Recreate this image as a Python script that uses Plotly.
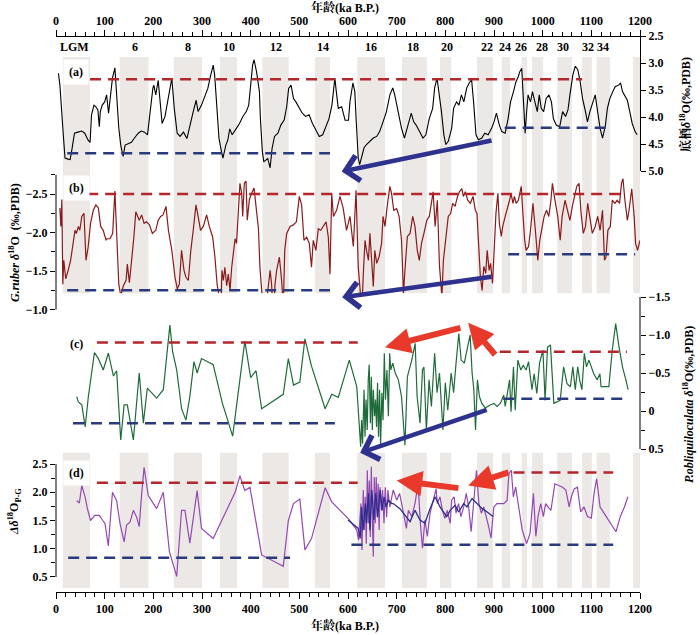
import plotly.graph_objects as go

# ---------------- data ----------------
AGE_A = [5,8,15,18.5,25,29,32,35,38,45,53,59,66,70,73,78,82,86,89,91,95,100,104,108,113,116,121,124,129,133,138,142,148,155,162,169,175,182,188,193,199,201,205,210,215,218,224,234,238,243,249,255,262,269,275,282,288,292,299,306,312,317,323,326,330,335,340,343,349,353,357,362,370,377,384,391,396,400,404,407,412,418,420,424,427,431,435,440,444,449,456,462,469,474,478,483,488,493,500,506,513,520,527,534,541,548,555,561,567,573,576,580,587,594,601,604,610,614,617,621,624,628,633,638,645,652,659,665,672,679,686,692,696,703,710,716,723,730,735,740,747,754,760,767,774,778,783,787,792,797,801,806,813,817,823,828,833,838,844,849,854,858,863,868,875,881,888,895,900,905,911,916,923,929,934,940,945,950,953,957,960,964,967,970,975,979,984,989,993,997,1002,1007,1013,1018,1022,1028,1035,1041,1047,1052,1056,1062,1067,1072,1077,1082,1088,1092,1097,1103,1108,1113,1118,1123,1129,1133,1138,1144,1149,1156,1160,1164,1169,1174,1179,1184,1190,1194]
BENTHIC = [3.19,3.41,4.33,4.76,4.78,4.79,4.64,4.46,4.30,4.28,4.26,4.30,4.43,4.47,3.96,3.78,3.81,3.87,4.18,3.90,3.78,3.72,3.59,3.93,3.47,3.28,3.09,3.59,4.20,4.52,4.73,4.52,4.49,4.47,4.38,4.30,4.26,4.28,4.33,3.90,3.47,3.41,3.59,3.32,3.90,4.12,3.99,3.47,3.28,3.84,4.30,4.36,4.28,4.40,4.15,3.90,3.69,3.90,3.78,3.59,3.47,3.26,3.04,3.22,3.84,4.40,4.64,4.76,4.52,4.43,4.22,4.33,4.22,4.12,3.99,3.90,3.78,3.41,3.04,2.94,3.16,3.53,4.03,4.64,4.83,4.80,4.77,4.94,4.58,4.36,4.30,4.15,4.05,3.81,3.47,3.41,3.66,3.72,3.84,3.93,3.99,3.96,4.12,4.24,4.36,4.33,4.15,4.03,3.78,3.28,3.53,3.84,3.81,4.06,4.06,3.72,3.37,3.53,4.09,4.76,4.88,4.76,4.57,4.51,4.45,4.39,4.36,4.27,4.09,3.90,3.59,3.46,3.59,3.90,4.21,4.39,4.15,3.93,4.09,4.15,4.27,4.39,4.33,4.03,3.84,3.46,3.28,3.53,3.90,4.33,4.51,4.45,4.21,3.84,3.72,3.78,3.59,3.72,3.46,3.37,3.31,3.72,4.33,4.42,4.39,4.30,4.33,4.21,4.09,3.93,4.15,4.27,4.30,4.03,3.72,3.53,3.35,3.25,3.16,3.10,3.66,4.30,3.90,3.59,3.72,3.53,3.72,3.90,3.59,3.84,3.90,3.66,3.59,3.72,4.03,4.15,4.18,3.90,3.99,3.87,3.59,3.22,3.06,3.12,3.34,3.66,3.90,4.09,3.90,3.72,3.59,3.90,4.21,4.39,4.15,3.84,3.66,3.53,3.44,3.41,3.37,3.53,3.62,3.69,3.90,4.12,4.27,4.33]

AGE_B = [8,10,12,14,16,20,25,30,34,39,42,46,49,53,57.5,61.6,66,71,76.6,82,87,91.8,97,103,105,111,116.5,121,125,129,133,138.5,144,146.6,150.8,155.6,160,164,167,171,176,181,186,192,198,205,210,215,220,226,231,238,244.5,249.3,253.4,258,263,267,272,277,282,287.6,292,297,302.7,309.5,315,322,326.6,331,335.6,338.3,341,344,347,350.7,354,357.6,361,364.5,368,371,374.6,378,381.6,383.6,387,390.5,393,397.4,402,407,411,416,419,422.6,426,429.5,433,436,440,443,446.6,450,453.4,459,463.6,467,470,474,481,487.6,494,500,504.7,509.5,515,520.5,525,528.6,534,539,544,549,555,559.6,563,566.5,570,576.6,583.5,590,597,604,611,616.5,621,625,628,631.5,635,638,642,645,649,652,655,659,664,669,672,676,680.5,686,689.5,694,700,705,710,714,717,722,727.5,733,737.6,742.4,746.5,751,756,762,767,772,775,779,783.6,788,790.4,793,796,801.4,806,811,815,820,825,829,834,837,841,846,851.4,857,861.6,865,869,872,875.6,879,883,886,890,893,897,901,904,908,911,915,918,923,927,932,935,939,942,945.6,950,956,959,963,966,971,975,980,985,990,994,999,1003,1008,1012.6,1017,1020,1024,1026.6,1031,1036,1040,1046,1051,1056,1061,1066,1070,1074.7,1079,1083.5,1088,1092.6,1097,1102,1108,1113,1118,1123,1127,1130,1134,1139,1143,1148.6,1153,1158,1162,1165,1169,1174,1177.5,1183,1188,1191,1195,1200]
RUBER = [-2.32,-2.08,-2.43,-1.33,-1.64,-1.40,-1.51,-1.64,-1.81,-2.03,-1.99,-2.08,-2.03,-2.21,-2.25,-1.64,-1.81,-2.12,-2.29,-2.36,-2.32,-2.08,-2.03,-1.90,-1.92,-1.92,-1.99,-2.54,-1.94,-1.33,-1.18,-1.31,-1.38,-1.59,-1.35,-1.64,-1.94,-2.27,-2.21,-2.16,-2.23,-2.12,-2.14,-2.10,-1.99,-2.03,-2.16,-2.21,-2.23,-2.34,-2.03,-1.77,-1.42,-1.27,-1.33,-1.77,-1.51,-1.42,-1.38,-1.77,-2.03,-2.36,-2.21,-2.03,-2.08,-2.23,-2.08,-1.94,-1.68,-1.33,-1.16,-0.92,-1.51,-1.38,-1.55,-1.31,-1.46,-1.25,-1.55,-1.77,-1.92,-1.86,-2.25,-2.64,-2.51,-2.21,-2.64,-2.67,-2.16,-2.43,-2.51,-2.58,-2.34,-2.05,-1.55,-1.25,-0.98,-0.92,-1.16,-1.29,-1.51,-1.33,-0.87,-1.33,-1.51,-1.68,-1.38,-1.03,-1.77,-1.99,-2.08,-2.10,-2.14,-2.47,-2.36,-1.90,-1.94,-1.86,-1.55,-1.90,-1.77,-2.05,-2.03,-2.08,-2.14,-1.94,-1.46,-2.51,-2.21,-2.29,-2.47,-2.32,-2.03,-2.21,-1.82,-2.55,-1.56,-1.25,-0.91,-1.47,-1.90,-1.77,-1.64,-1.99,-1.56,-1.30,-1.77,-1.60,-1.69,-1.86,-2.21,-2.08,-2.34,-2.60,-2.51,-2.29,-2.31,-2.21,-1.90,-1.21,-1.51,-1.95,-1.99,-2.21,-2.08,-1.77,-1.64,-1.86,-1.99,-2.16,-2.21,-2.42,-2.53,-2.08,-2.42,-1.56,-1.34,-1.17,-1.64,-1.99,-2.21,-2.25,-2.38,-2.34,-2.47,-2.53,-2.57,-2.47,-2.53,-2.42,-2.38,-2.47,-2.29,-2.25,-1.77,-1.43,-1.25,-1.56,-1.47,-1.77,-1.51,-1.60,-1.34,-1.77,-2.25,-2.51,-2.12,-1.95,-2.08,-2.21,-2.29,-2.42,-2.51,-2.38,-2.47,-2.38,-2.42,-2.60,-2.29,-1.90,-1.77,-1.82,-2.03,-2.38,-2.03,-1.64,-1.90,-2.08,-2.21,-2.29,-2.21,-2.42,-2.64,-2.47,-2.38,-2.21,-1.90,-2.21,-2.42,-2.29,-2.16,-2.34,-2.47,-2.60,-2.64,-2.25,-1.99,-2.08,-2.38,-2.21,-1.99,-2.08,-2.21,-2.03,-2.29,-1.64,-1.68,-2.03,-2.08,-2.42,-2.38,-2.42,-2.38,-2.64,-2.70,-2.42,-2.16,-2.29,-2.57,-2.21,-1.86,-1.77,-1.90]

AGE_C = [42.5,46,53,60,66.5,73.5,79,87,97,107.5,118,124.6,133,140,146.6,159,171,179.5,187.6,206.8,220.5,234,239.6,248,258,267,275,283.5,290,299,323,342,363,388,400,411,422.6,467,477.4,488,501,511.5,525,553,566.6,580,602.7,618,626,628,630,633,635,637,639.5,641.6,643.6,646,648,650,652,654.6,656.6,658.6,660.7,662.7,665,667,669.6,672,674.6,677,680,683,685.6,688,692,697,703.5,710,717,722,731,738,742,748,753,756,761,766.6,771.4,778,783,788,795,800,805,812,817,822,827.7,832.5,839,846,851,855,858.6,862,866,870,875,882,892,900,906,913,920,923,926.5,932,935,940,943.6,949,955,960,966,971,978,982.5,988,993.6,1000.5,1005,1010,1016,1023,1029.6,1036,1043,1050,1057,1062,1067,1072,1076,1080.6,1085.6,1090,1095,1099.6,1105,1112,1117.6,1120,1129,1136,1143,1150,1157,1164,1171,1175.6]
POBL = [-0.19,-0.12,-0.08,0.21,-0.19,-0.54,-0.77,-0.69,-0.54,-0.76,-0.46,-0.53,0.38,-0.08,-0.08,0.38,-0.50,0.16,-0.30,-0.17,-0.28,-1.13,-0.78,-0.54,-0.03,0.12,-0.19,-0.65,-0.50,-0.69,-0.61,-0.10,0.33,-0.92,-0.44,-0.53,-0.03,-0.22,-0.69,-0.34,-0.38,-0.95,-0.59,-0.03,-0.22,-0.18,-0.67,-0.32,0.47,0.12,0.43,-0.28,0.34,-0.15,0.25,-0.41,-0.61,0.16,-0.45,0.25,-0.28,0.07,-0.15,0.21,-0.37,0.34,-0.28,0.45,-0.24,0.12,-0.76,-0.15,-0.54,0.07,-0.76,-0.54,-0.63,-0.50,-0.41,-0.19,0.45,-0.45,-0.67,-0.89,-0.19,0.16,-0.54,-0.58,0.25,-0.41,-0.06,-0.76,-0.24,-0.50,0.25,-0.37,-0.01,-0.50,-0.24,-0.63,-1.02,-0.67,-0.63,-0.85,-1.00,-0.50,-0.28,0.25,-0.41,-0.19,-0.10,-0.04,-0.08,-0.10,-0.06,-0.10,-0.21,-0.06,-0.19,-0.41,0.01,-0.58,-0.01,-0.67,-0.54,-0.60,-0.54,-0.65,-0.28,-0.49,-0.23,-0.63,-0.80,-0.14,-0.84,-0.87,-0.10,-0.12,-0.14,-0.58,-0.36,-0.32,-0.58,-0.28,-0.58,-0.41,-0.28,-0.76,-0.58,-0.67,-0.58,-0.49,-0.41,-0.49,-0.32,-0.32,-0.32,-0.80,-1.15,-0.84,-0.58,-0.41,-0.28]

AGE_D = [42.5,48,53,60,64.5,71,80,89,96,100.6,107.5,116,124.6,131.5,140,145,152,159,165.7,171,176,181,189.6,206.8,220.5,233,248,258,265,275,290,299,323,368,378,388,398.5,422.6,467,477.4,488,501,511.5,525,553,566.6,602,618,621.6,626.6,628.7,631.4,633.5,635.5,637.6,639.7,641.7,643.8,645.8,647.9,649.9,652,654,656,658,660,662,664,666,669,671,674,676.6,679.4,682,686,690,693,700,706,714,720,724,731,737.6,744,749,753,758,763,768.6,775,781,783.6,789,794,799,804,810,813,818,822,827,832,837.7,843,848,853,857,860,864,869,874,879,884.5,889,894,899.6,906,920,927,930.6,935.6,939.7,944.5,951,958,967,974,981,986,990.5,996,1001.5,1006,1011,1017,1025,1034,1041,1047.6,1054.5,1059,1064.6,1071.4,1078,1085,1092,1100,1105.6,1111,1118,1126,1135,1144,1150.6,1159.5,1168,1175]
DELTA = [1.85,1.81,2.12,1.91,1.71,1.50,1.59,1.59,1.50,1.45,1.05,2.00,1.85,1.45,1.12,1.42,1.47,1.68,1.56,1.39,1.97,2.44,1.94,1.71,2.00,0.95,0.51,1.68,1.68,1.10,2.03,1.36,1.18,2.00,2.29,2.03,2.09,0.89,0.69,1.50,1.80,1.88,0.98,1.18,2.08,1.83,1.52,1.33,1.15,1.80,0.98,2.04,1.33,1.92,1.09,2.39,1.45,2.21,1.21,2.45,1.56,0.86,2.27,1.45,2.27,1.56,2.15,1.33,2.09,1.68,2.04,1.45,2.09,1.56,2.04,1.74,1.92,2.04,1.86,1.98,1.63,1.36,1.68,1.57,1.80,2.15,1.42,1.01,1.51,1.22,1.63,1.86,2.06,1.80,1.92,1.68,1.54,1.68,1.45,1.86,1.92,1.63,1.80,1.57,1.74,1.98,1.74,1.30,1.68,2.09,2.39,1.80,1.63,1.74,1.57,1.39,1.19,1.74,1.80,1.80,1.86,2.33,2.39,1.92,2.09,1.74,1.33,1.09,1.27,1.98,1.22,1.57,1.80,1.57,1.80,1.74,1.68,2.15,2.12,2.09,2.04,1.74,1.92,2.06,2.09,1.65,1.74,1.57,1.54,1.98,2.24,1.74,1.63,1.51,1.39,1.30,1.57,1.74,1.92]

AGE_DS = [600,621,625,628,631,636,638,642,645,649,653,657,661,666,670,674,678,683,690,693,706.6,717,727.5,737.6,748,758,768.6,779,789,803,810,820,827.4,837.7,844.5,855,865,875.6,886,898]
DELTA_SMOOTH = [1.51,1.36,1.18,1.74,1.33,1.80,1.45,1.98,1.33,2.04,1.51,1.98,1.56,2.04,1.68,1.92,1.74,1.86,1.80,1.80,1.71,1.60,1.48,1.68,1.51,1.45,1.71,1.92,1.74,1.57,1.68,1.77,1.65,1.80,1.74,1.89,1.80,1.71,1.65,1.57]

GLACIAL_START = [14,131,242,337,424,532,619,711,789,865,916,957,978,1030,1081,1111,1186]
GLACIAL_END   = [70,190,300,372,478,563,676,762,812,898,933,968,1001,1060,1101,1138,1200]
MIS_LABELS = ["LGM","6","8","10","12","14","16","18","20","22","24","26","28","30","32","34"]
MIS_AGE    = [39,162,271,355,452,549,647,734,803,885,922,955,998,1042,1093,1124]

# dashed reference levels: (axis, value, start age, end age, colour key)
LEVELS = [
    ("y", 3.30, 70, 1081, "r"), ("y", 4.67, 23, 563, "b"), ("y", 4.20, 922, 1143, "b"),
    ("y2", -2.50, 64, 1173, "r"), ("y2", -1.25, 23, 563, "b"), ("y2", -1.72, 929, 1190, "b"),
    ("y3", -0.90, 84, 620, "r"), ("y3", -0.78, 912, 1173, "r"), ("y3", 0.16, 35, 573, "b"), ("y3", -0.16, 919, 1173, "b"),
    ("y4", 2.17, 84, 620, "r"), ("y4", 2.35, 940, 1145, "r"), ("y4", 0.84, 25, 481, "b"), ("y4", 1.07, 607, 1145, "b"),
]
# arrows: (axis, head age, head value, tail age, tail value, colour key)
ARROWS = [
    ("y", 587, 5.01, 898, 4.43, "b"),
    ("y2", 588, -1.16, 898, -1.43, "b"),
    ("y3", 625, 0.55, 888, -0.02, "b"),
    ("y3", 676, -0.84, 834, -1.10, "r"),
    ("y3", 847, -1.16, 905, -0.72, "r"),
    ("y4", 700, 2.21, 830, 2.07, "r"),
    ("y4", 847, 2.12, 933, 2.36, "r"),
]

# ---------------- layout geometry (window pixels) ----------------
W, H = 700, 635
PL, PR, PT, PB = 56, 640, 36, 592   # plot box
PW, PH = PR - PL, PB - PT
def py2p(py):
    return (PB - py) / PH
def px2p(px):
    return (px - PL) / PW

SERIF = "Liberation Serif, 'Noto Serif CJK SC', 'Noto Sans CJK SC', serif"
TF = dict(family=SERIF, size=12, color="black", weight="bold")
BAND = "#ebe8e6"
DRED = "#b3262c"
DBLUE = "#2a3a7c"
ARED = "#e8392b"
ABLUE = "#2f318f"

fig = go.Figure()

fig.add_trace(go.Scatter(x=AGE_A, y=BENTHIC, mode="lines", line=dict(color="black", width=1.1), xaxis="x", yaxis="y"))
fig.add_trace(go.Scatter(x=AGE_B, y=RUBER, mode="lines", line=dict(color="#8b1a1a", width=1.2), xaxis="x", yaxis="y2"))
fig.add_trace(go.Scatter(x=AGE_C, y=POBL, mode="lines", line=dict(color="#1f6b3a", width=1.2), xaxis="x", yaxis="y3"))
fig.add_trace(go.Scatter(x=AGE_D, y=DELTA, mode="lines", line=dict(color="#9448b3", width=1.2), xaxis="x", yaxis="y4"))
fig.add_trace(go.Scatter(x=AGE_DS, y=DELTA_SMOOTH, mode="lines", line=dict(color="#2b2f8c", width=1.3), xaxis="x", yaxis="y4"))
# carrier for the top axis
fig.add_trace(go.Scatter(x=[0, 1200], y=[None, None], mode="lines", xaxis="x2", yaxis="y", hoverinfo="skip"))

# glacial bands
for s, e in zip(GLACIAL_START, GLACIAL_END):
    fig.add_shape(type="rect", xref="x", yref="paper", x0=s, x1=e, y0=py2p(588), y1=py2p(57),
                  fillcolor=BAND, line_width=0, layer="below")

# dashed levels
for ax, v, s, e, c in LEVELS:
    fig.add_shape(type="line", xref="x", yref=ax, x0=s, x1=e, y0=v, y1=v,
                  line=dict(color=DRED if c == "r" else DBLUE, width=2.5, dash="11px,7px"))

# axis spines for panels b, c, d
fig.add_shape(type="line", xref="paper", yref="y2", x0=0, x1=0, y0=-2.75, y1=-1.0, line=dict(color="black", width=1))
fig.add_shape(type="line", xref="paper", yref="y3", x0=1, x1=1, y0=-1.5, y1=0.5, line=dict(color="black", width=1))
fig.add_shape(type="line", xref="paper", yref="y4", x0=0, x1=0, y0=0.5, y1=2.5, line=dict(color="black", width=1))

ann = []
for ax, hx, hy, tx, ty, c in ARROWS:
    ann.append(dict(x=hx, y=hy, xref="x", yref=ax, ax=tx, ay=ty, axref="x", ayref=ax, text="",
                    showarrow=True, arrowhead=4 if c == "b" else 2,
                    arrowsize=1.1 if c == "b" else 0.85,
                    arrowwidth=4.5 if c == "b" else 6,
                    arrowcolor=ABLUE if c == "b" else ARED, standoff=0))

for lab, a in zip(MIS_LABELS, MIS_AGE):
    ann.append(dict(x=a, y=py2p(47), xref="x", yref="paper", text=lab, showarrow=False,
                    font=TF, xanchor="center", yanchor="middle"))

for lab, py in [("(a)", 72), ("(b)", 188), ("(c)", 344), ("(d)", 473)]:
    ann.append(dict(x=px2p(76), y=py2p(py), xref="paper", yref="paper", text=lab, showarrow=False,
                    font=TF, bgcolor="white", borderpad=5, xanchor="center", yanchor="middle"))

def title(px, py, text, angle=0):
    return dict(x=px2p(px), y=py2p(py), xref="paper", yref="paper", text=text, showarrow=False, font=TF,
                textangle=angle, xanchor="center", yanchor="middle")

ann += [
    title(345, 7, "年龄(ka B.P.)"),
    title(345, 625, "年龄(ka B.P.)"),
    title(685, 105, "底栖<i>δ</i><sup>18</sup>O(‰,PDB)", -90),
    title(14, 243, "<i>G.ruber δ</i><sup>18</sup>O  (‰,PDB)", -90),
    title(688, 405, "<i>P.obliquiloculata δ</i><sup>18</sup>O(‰,PDB)", -90),
    title(14, 512, "<i>Δδ</i><sup>18</sup>O<sub>P-G</sub>", -90),
]

xcommon = dict(range=[0, 1200], showline=True, linecolor="black", linewidth=1, ticks="outside", ticklen=6,
               tickwidth=1, tickcolor="black", dtick=100, tick0=0, showgrid=False, zeroline=False, tickfont=TF,
               minor=dict(dtick=20, ticks="outside", ticklen=4, tickcolor="black", showgrid=False))
ycommon = dict(ticks="outside", ticklen=5, tickcolor="black", showgrid=False, zeroline=False, tickfont=TF)

fig.update_layout(
    width=W, height=H,
    margin=dict(l=PL, r=W - PR, t=PT, b=H - PB, autoexpand=False),
    paper_bgcolor="white", plot_bgcolor="white", showlegend=False,
    xaxis=dict(domain=[0, 1], anchor="free", position=0, **xcommon),
    xaxis2=dict(overlaying="x", side="top", anchor="free", position=1, **xcommon),
    yaxis=dict(domain=[py2p(171), py2p(36)], range=[5.0, 2.5], side="right", anchor="x", showline=True,
               linecolor="black", tickvals=[2.5, 3.0, 3.5, 4.0, 4.5, 5.0], tickformat=".1f", **ycommon),
    yaxis2=dict(domain=[py2p(325), py2p(171)], range=[-0.8, -2.8], side="left", anchor="x", showline=False,
                tickvals=[-2.5, -2.0, -1.5, -1.0], tickformat=".1f",
                minor=dict(tickvals=[-2.75, -2.25, -1.75, -1.25], ticks="outside", ticklen=4, tickcolor="black"),
                **ycommon),
    yaxis3=dict(domain=[py2p(452.8), py2p(293.2)], range=[0.55, -1.55], side="right", anchor="x", showline=False,
                tickvals=[-1.5, -1.0, -0.5, 0, 0.5], ticktext=["−1.5", "−1.0", "−0.5", "0", "0.5"],
                minor=dict(tickvals=[-1.25, -0.75, -0.25, 0.25], ticks="outside", ticklen=4, tickcolor="black"),
                **ycommon),
    yaxis4=dict(domain=[py2p(579.8), py2p(461.2)], range=[0.45, 2.55], side="left", anchor="x", showline=False,
                tickvals=[0.5, 1.0, 1.5, 2.0, 2.5], tickformat=".1f",
                minor=dict(tickvals=[0.75, 1.25, 1.75, 2.25], ticks="outside", ticklen=4, tickcolor="black"),
                **ycommon),
    annotations=ann,
)

# remove the browser's default page margin so the figure sits at the window origin
fig.write_html("out.html", config={"displayModeBar": False},
               post_script="document.body.style.margin='0';")
